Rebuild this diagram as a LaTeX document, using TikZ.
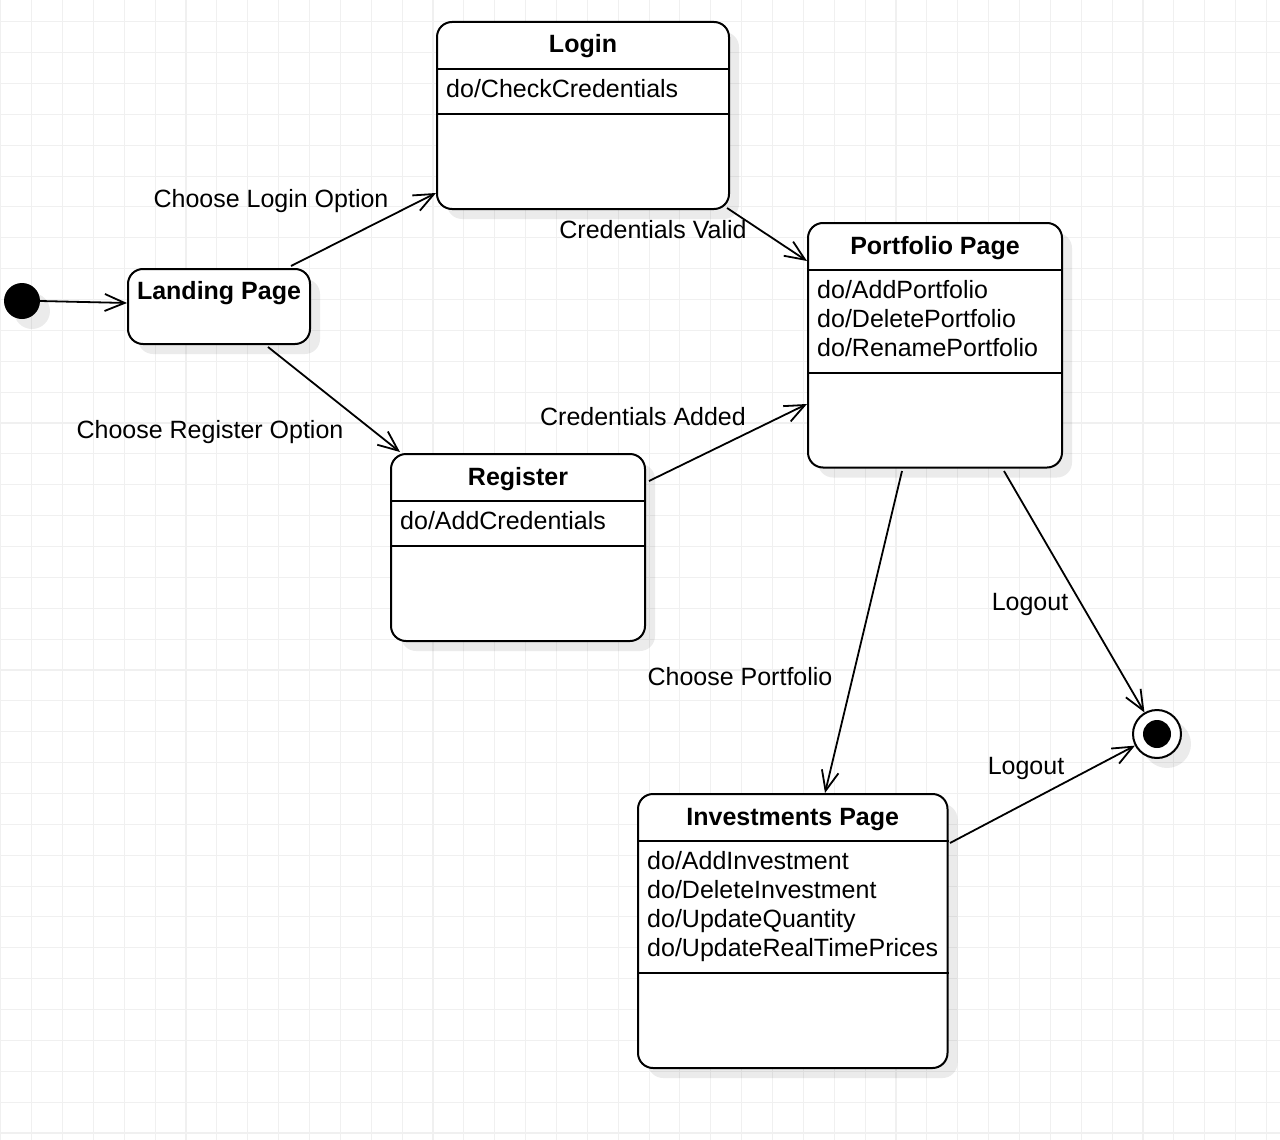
\documentclass[tikz,border=0pt]{standalone}
\usepackage{fontspec}
\setmainfont{Liberation Sans}
\usetikzlibrary{arrows.meta,calc,shadows}

\tikzset{
  gridline/.style={draw=black!6, line width=1.1pt},
  shade box/.style={drop shadow={shadow xshift=10pt, shadow yshift=-10pt, fill=black, opacity=0.08}},
  statebox/.style={draw, line width=2pt, rounded corners=15pt, fill=white,
    anchor=north west, inner sep=0pt, shade box},
  sep/.style={line width=2pt},
  titletext/.style={anchor=base, inner sep=0pt, font=\fontsize{25}{30}\selectfont\bfseries},
  itemtext/.style={anchor=base west, inner sep=0pt},
  lbl/.style={anchor=base, inner sep=0pt},
  trans/.style={line width=1.8pt, -{Straight Barb[length=20pt,width=17pt]}},
  every node/.style={font=\fontsize{25}{30}\selectfont},
}

\begin{document}
\begin{tikzpicture}[x=1pt,y=-1pt]
\useasboundingbox (0,0) rectangle (1280,1140);
\fill[white] (0,0) rectangle (1280,1140);

% background grid
\foreach \i in {0,...,41} \draw[gridline] ({0.8+30.87*\i},0) -- ({0.8+30.87*\i},1140);
\foreach \j in {0,...,36} \draw[gridline] (0,{21.7+30.87*\j}) -- (1280,{21.7+30.87*\j});

% initial and final pseudo-states
\node[circle, fill=black, minimum size=36pt, inner sep=0pt, shade box] (init) at (22,301) {};
\node[circle, draw, line width=2pt, fill=white, minimum size=48pt, inner sep=0pt, shade box] (final) at (1157,734) {};
\fill (final.center) circle (14);

% Landing Page
\node[statebox, minimum width=182pt, minimum height=75pt] (landing) at (127,268) {};
\node[titletext] (landing-t) at ($(landing.north)+(0,31)$) {Landing Page};

% Login
\node[statebox, minimum width=292pt, minimum height=187pt] (login) at (436,21) {};
\node[titletext] (login-t) at ($(login.north)+(0,32)$) {Login};
\draw[sep] ($(login.north west)+(0,48)$) -- ($(login.north east)+(0,48)$);
\node[itemtext] (login-i1) at ($(login.north west)+(10,76)$) {do/CheckCredentials};
\draw[sep] ($(login.north west)+(0,93)$) -- ($(login.north east)+(0,93)$);

% Portfolio Page
\node[statebox, minimum width=254pt, minimum height=244.5pt] (portfolio) at (807,222) {};
\node[titletext] (portfolio-t) at ($(portfolio.north)+(0,32)$) {Portfolio Page};
\draw[sep] ($(portfolio.north west)+(0,48)$) -- ($(portfolio.north east)+(0,48)$);
\node[itemtext] (portfolio-i1) at ($(portfolio.north west)+(10,76)$) {do/AddPortfolio};
\node[itemtext] (portfolio-i2) at ($(portfolio.north west)+(10,105)$) {do/DeletePortfolio};
\node[itemtext] (portfolio-i3) at ($(portfolio.north west)+(10,134)$) {do/RenamePortfolio};
\draw[sep] ($(portfolio.north west)+(0,151)$) -- ($(portfolio.north east)+(0,151)$);

% Register
\node[statebox, minimum width=254pt, minimum height=187pt] (register) at (390,453) {};
\node[titletext] (register-t) at ($(register.north)+(0,32)$) {Register};
\draw[sep] ($(register.north west)+(0,48)$) -- ($(register.north east)+(0,48)$);
\node[itemtext] (register-i1) at ($(register.north west)+(10,76)$) {do/AddCredentials};
\draw[sep] ($(register.north west)+(0,93)$) -- ($(register.north east)+(0,93)$);

% Investments Page
\node[statebox, minimum width=309.5pt, minimum height=274pt] (invest) at (637,793) {};
\node[titletext] (invest-t) at ($(invest.north)+(0,32)$) {Investments Page};
\draw[sep] ($(invest.north west)+(0,48)$) -- ($(invest.north east)+(0,48)$);
\node[itemtext] (invest-i1) at ($(invest.north west)+(10,76)$) {do/AddInvestment};
\node[itemtext] (invest-i2) at ($(invest.north west)+(10,105)$) {do/DeleteInvestment};
\node[itemtext] (invest-i3) at ($(invest.north west)+(10,134)$) {do/UpdateQuantity};
\node[itemtext] (invest-i4) at ($(invest.north west)+(10,163)$) {do/UpdateRealTimePrices};
\draw[sep] ($(invest.north west)+(0,180)$) -- ($(invest.north east)+(0,180)$);

% transitions
\draw[trans] (init.east) -- ($(landing.north west)+(0,35)$);
\draw[trans] ($(landing.north west)+(164,-2)$) -- ($(login.south west)+(0,-17)$);
\draw[trans] ($(landing.south west)+(141,2)$) -- ($(register.north west)+(10,-1)$);
\draw[trans] ($(login.south east)+(-3,-2)$) -- ($(portfolio.north west)+(0,39)$);
\draw[trans] ($(register.north east)+(3,28)$) -- ($(portfolio.north west)+(0,182)$);
\draw[trans] ($(portfolio.south west)+(95,2.5)$) -- ($(invest.north west)+(188,0)$);
\draw[trans] ($(portfolio.south west)+(197,2.5)$) -- (final);
\draw[trans] ($(invest.north east)+(1.5,50)$) -- (final);

% transition labels
\node[lbl] (l-login) at (271,207.5) {Choose Login Option};
\node[lbl] (l-register) at (210,438.5) {Choose Register Option};
\node[lbl] (l-valid) at (653,238.5) {Credentials Valid};
\node[lbl] (l-added) at (643,425.5) {Credentials Added};
\node[lbl] (l-choose) at (740,685.5) {Choose Portfolio};
\node[lbl] (l-logout1) at (1030,610.5) {Logout};
\node[lbl] (l-logout2) at (1026,774.5) {Logout};
\end{tikzpicture}
\end{document}
